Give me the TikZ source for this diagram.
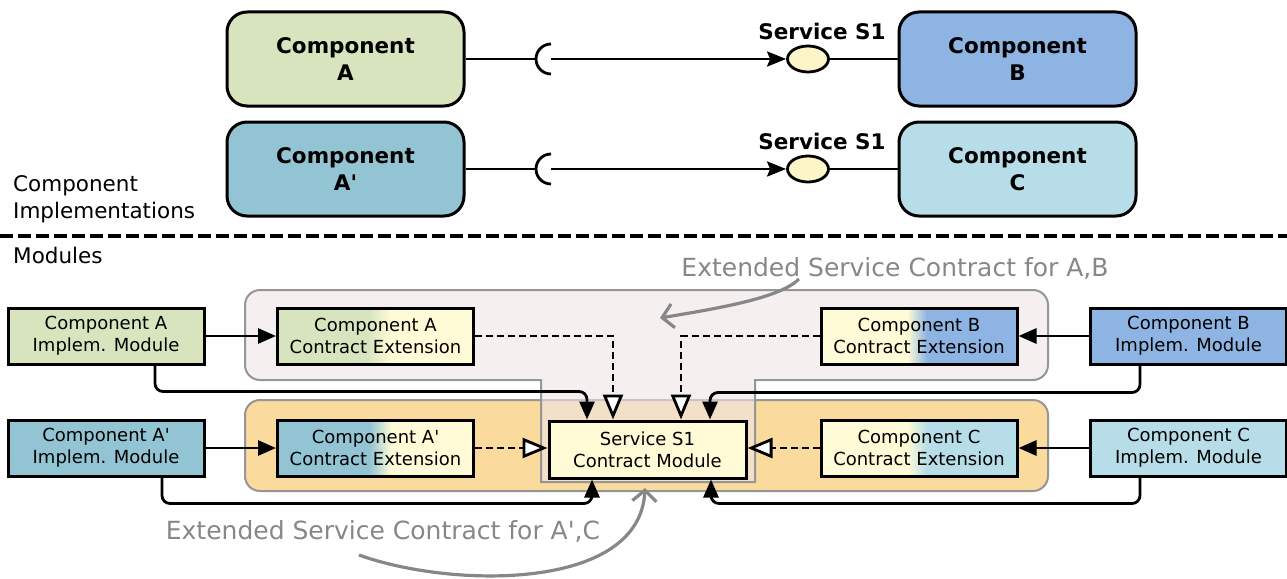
\documentclass[tikz,border=0pt]{standalone}
\usepackage{fontspec}
\newfontfamily\dv{DejaVu Sans}
\usetikzlibrary{arrows.meta,shapes.geometric,calc}
\definecolor{cA}{RGB}{215,228,189}
\definecolor{cB}{RGB}{141,180,226}
\definecolor{cAp}{RGB}{147,196,212}
\definecolor{cC}{RGB}{183,222,232}
\definecolor{cY}{RGB}{255,251,214}
\definecolor{cBall}{RGB}{252,245,200}
\definecolor{cOr}{RGB}{250,218,157}
\definecolor{cPk}{RGB}{238,228,230}
\definecolor{cGrpLine}{RGB}{150,150,150}
\definecolor{cNote}{RGB}{135,135,135}
\pgfdeclarehorizontalshading{shA}{100bp}{color(0bp)=(cA); color(48bp)=(cA); color(54bp)=(cY); color(100bp)=(cY)}
\pgfdeclarehorizontalshading{shAp}{100bp}{color(0bp)=(cAp); color(48.5bp)=(cAp); color(54bp)=(cY); color(100bp)=(cY)}
\pgfdeclarehorizontalshading{shB}{100bp}{color(0bp)=(cY); color(47bp)=(cY); color(52bp)=(cB); color(100bp)=(cB)}
\pgfdeclarehorizontalshading{shC}{100bp}{color(0bp)=(cY); color(47bp)=(cY); color(52bp)=(cC); color(100bp)=(cC)}
\begin{document}
\begin{tikzpicture}[x=1pt,y=-1pt,
  every node/.style={font=\dv},
  comp/.style={draw, line width=3pt, rounded corners=20pt, minimum width=237pt, minimum height=94pt, align=center, font=\dv\bfseries\fontsize{21.5}{27}\selectfont},
  mod/.style={draw, line width=3pt, minimum width=196pt, minimum height=56pt, align=center, inner sep=0pt, font=\dv\fontsize{18}{22}\selectfont},
  ball/.style={ellipse, draw, line width=2.8pt, fill=cBall, minimum width=41pt, minimum height=26pt, inner sep=0pt},
  ln/.style={line width=2.8pt},
  arr/.style={line width=2.8pt, -{Triangle[length=18pt,width=15pt]}},
  dsh/.style={line width=2.8pt, dash pattern=on 7pt off 4pt, -{Triangle[length=25pt,width=20pt,fill=white]}},
  grp/.style={draw=cGrpLine, line width=2pt},
  note/.style={text=cNote, font=\dv\fontsize{25}{30}\selectfont},
  notearr/.style={draw=cNote, line width=3.2pt, -{Straight Barb[length=11pt,width=24pt]}},
  lbl/.style={font=\dv\fontsize{21.5}{27}\selectfont, align=left, anchor=west, inner sep=0pt},
  svclbl/.style={font=\dv\bfseries\fontsize{21.5}{27}\selectfont, inner sep=0pt}
]
\useasboundingbox (0,0) rectangle (1287,578);

% ---------- top: component implementations ----------
\node[comp, fill=cA]  (A)  at (345.5,59)  {Component\\A};
\node[comp, fill=cB]  (B)  at (1017.5,59) {Component\\B};
\node[comp, fill=cAp] (Ap) at (345.5,169) {Component\\A'};
\node[comp, fill=cC]  (C)  at (1017.5,169) {Component\\C};

\coordinate (sockA) at (551,59);
\coordinate (sockAp) at (551,169);
\node[ball] (ballB) at (808,59) {};
\node[ball] (ballC) at (808,169) {};
\node[svclbl] (s1a) at (822,31) {Service S1};
\node[svclbl] (s1b) at (822,141) {Service S1};

\draw[ln] (A.east) -- ([xshift=-15pt]sockA);
\draw[ln] ([yshift=15pt]sockA) arc[start angle=90,end angle=270,radius=15pt];
\draw[ln, -{Stealth[length=19pt,width=15pt,inset=3pt]}] (sockA) -- (ballB.west);
\draw[ln] (ballB.east) -- (B.west);

\draw[ln] (Ap.east) -- ([xshift=-15pt]sockAp);
\draw[ln] ([yshift=15pt]sockAp) arc[start angle=90,end angle=270,radius=15pt];
\draw[ln, -{Stealth[length=19pt,width=15pt,inset=3pt]}] (sockAp) -- (ballC.west);
\draw[ln] (ballC.east) -- (C.west);

% ---------- separator ----------
\node[lbl] (lblImpl) at (13,199.5) {Component\\Implementations};
\draw[line width=4pt, dash pattern=on 13pt off 5pt] (0,236) -- (1287,236);
\node[lbl] (lblMod) at (13,255) {Modules};

% ---------- groups ----------
\draw[grp, fill=cOr, rounded corners=15pt] (245,400) rectangle (1048,491);
\path[grp, fill=cPk, fill opacity=0.6]
  (260,290) -- (1033,290) arc[start angle=90,end angle=0,radius=15pt]
  -- (1048,365) arc[start angle=0,end angle=-90,radius=15pt]
  -- (755,380) -- (755,482) -- (541,482) -- (541,380)
  -- (260,380) arc[start angle=270,end angle=180,radius=15pt]
  -- (245,305) arc[start angle=180,end angle=90,radius=15pt] -- cycle;

% ---------- modules ----------
\node[mod, fill=cA]  (Aimp)  at (106,336)    {Component A\\Implem. Module};
\node[mod, shade, shading=shA] (Aext) at (375.5,336) {Component A\\Contract Extension};
\node[mod, shade, shading=shB] (Bext) at (919,336)   {Component B\\Contract Extension};
\node[mod, fill=cB]  (Bimp)  at (1188.5,336) {Component B\\Implem. Module};

\node[mod, fill=cAp] (Apimp) at (106,448)    {Component A'\\Implem. Module};
\node[mod, shade, shading=shAp] (Apext) at (375.5,448) {Component A'\\Contract Extension};
\node[mod, fill=cY, minimum width=197pt, minimum height=57pt] (svc) at (647.5,449.5) {Service S1\\Contract Module};
\node[mod, shade, shading=shC] (Cext) at (919,448)   {Component C\\Contract Extension};
\node[mod, fill=cC]  (Cimp)  at (1188.5,448) {Component C\\Implem. Module};

% ---------- connectors ----------
\draw[arr] (Aimp.east) -- (Aext.west);
\draw[arr] (Bimp.west) -- (Bext.east);
\draw[arr] (Apimp.east) -- (Apext.west);
\draw[arr] (Cimp.west) -- (Cext.east);

\draw[dsh] (Aext.east) -| ([xshift=-34.5pt]svc.north);
\draw[dsh] (Bext.west) -| ([xshift=33.5pt]svc.north);
\draw[dsh] (Apext.east) -- (Apext.east -| svc.west);
\draw[dsh] (Cext.west) -- (Cext.west -| svc.east);

\draw[arr, rounded corners=8pt] ([xshift=49pt]Aimp.south) -- ++(0,26) -| ([xshift=-60.5pt]svc.north);
\draw[arr, rounded corners=8pt] ([xshift=-48.5pt]Bimp.south) -- ++(0,27) -| ([xshift=62.5pt]svc.north);
\draw[arr, rounded corners=8pt] ([xshift=56pt]Apimp.south) -- ++(0,26) -| ([xshift=-55.5pt]svc.south);
\draw[arr, rounded corners=8pt] ([xshift=-48.5pt]Cimp.south) -- ++(0,26) -| ([xshift=63.5pt]svc.south);

% ---------- annotations ----------
\node[note] (n1) at (895,268) {Extended Service Contract for A,B};
\coordinate (n1s) at (799,279);
\coordinate (n1e) at (660,318);
\draw[notearr] (n1s) .. controls (780,298) and (720,308) .. (n1e);

\node[note] (n2) at (383,531) {Extended Service Contract for A',C};
\coordinate (n2s) at (359,555);
\coordinate (n2e) at (645,488);
\draw[notearr] (n2s) .. controls (450,588) and (640,592) .. (n2e);
\end{tikzpicture}
\end{document}
